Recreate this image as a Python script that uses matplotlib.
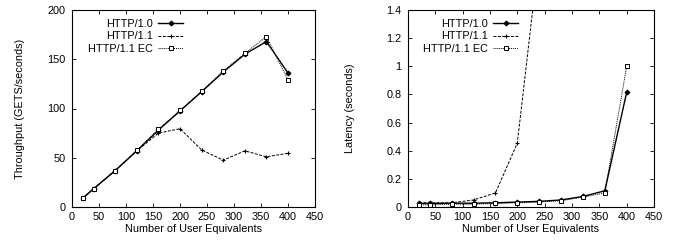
import matplotlib
matplotlib.use("Agg")
import matplotlib.pyplot as plt

plt.rcParams['font.family'] = ['Liberation Sans', 'DejaVu Sans']
plt.rcParams['font.size'] = 7.8

# users on the x axis
users = [20, 40, 80, 120, 160, 200, 240, 280, 320, 360, 400]

# throughput (GETS/seconds)
thr_http10 = [9, 18.5, 37, 57, 78, 97.5, 117, 137, 155, 168, 136]
thr_http11 = [9, 18.5, 37, 57, 75, 79.5, 58, 47.5, 57, 51, 54.5]
thr_http11ec = [9, 18.5, 37, 57.5, 79, 98, 117.5, 138, 156, 173, 129]

# latency (seconds)
lat_http10 = [0.025, 0.025, 0.027, 0.027, 0.03, 0.035, 0.04, 0.05, 0.075, 0.115, 0.815]
lat_users11 = [20, 40, 80, 120, 160, 200, 240]
lat_http11 = [0.03, 0.03, 0.03, 0.05, 0.1, 0.455, 1.8]
lat_http11ec = [0.015, 0.015, 0.02, 0.02, 0.025, 0.03, 0.035, 0.045, 0.07, 0.1, 1.0]

labels = ["HTTP/1.0", "HTTP/1.1", "HTTP/1.1 EC"]


def style_axes(ax):
    ax.tick_params(axis='both', direction='in', top=True, right=True, length=3, width=0.6)
    ax.tick_params(axis='y', pad=4.5)
    ax.tick_params(axis='x', pad=3.5)
    for s in ax.spines.values():
        s.set_linewidth(0.8)
    ax.set_xlim(0, 450)
    ax.set_xticks(range(0, 451, 50))
    ax.set_xlabel("Number of User Equivalents", labelpad=1.5)


def draw(ax, x1, y1, x2, y2, x3, y3, anchor_x):
    ax.plot(x1, y1, color='black', lw=1.0, ls='-', marker='D', ms=2.3, label=labels[0])
    ax.plot(x2, y2, color='black', lw=0.7, ls=(0, (3, 1.5)), marker='+', ms=3, mew=0.8, label=labels[1])
    ax.plot(x3, y3, color='black', lw=0.7, ls=(0, (1, 1)), marker='s', ms=2.8, mfc='white', mew=0.7, label=labels[2])
    leg = ax.legend(loc='upper right', bbox_to_anchor=(anchor_x, 0.975), frameon=False, markerfirst=False,
                    handlelength=2.3, handletextpad=0.5, labelspacing=0.2, borderaxespad=0)
    for t in leg.get_texts():
        t.set_ha('right')
    leg._legend_box.align = 'right'


fig = plt.figure(figsize=(6.75, 2.41), dpi=100)
ax1 = fig.add_axes([72 / 675, 1 - 207 / 241, (315 - 72) / 675, (207 - 10) / 241])
ax2 = fig.add_axes([408 / 675, 1 - 207 / 241, (654 - 408) / 675, (207 - 10) / 241])

draw(ax1, users, thr_http10, users, thr_http11, users, thr_http11ec, 0.475)
style_axes(ax1)
ax1.set_ylim(0, 200)
ax1.set_yticks(range(0, 201, 50))
ax1.set_ylabel("Throughput (GETS/seconds)", labelpad=16.5)

draw(ax2, users, lat_http10, lat_users11, lat_http11, users, lat_http11ec, 0.465)
style_axes(ax2)
ax2.set_ylim(0, 1.4)
ax2.set_yticks([0, 0.2, 0.4, 0.6, 0.8, 1, 1.2, 1.4])
ax2.set_yticklabels(["0", "0.2", "0.4", "0.6", "0.8", "1", "1.2", "1.4"])
ax2.set_ylabel("Latency (seconds)", labelpad=23)

fig.savefig("out.png", dpi=100)
